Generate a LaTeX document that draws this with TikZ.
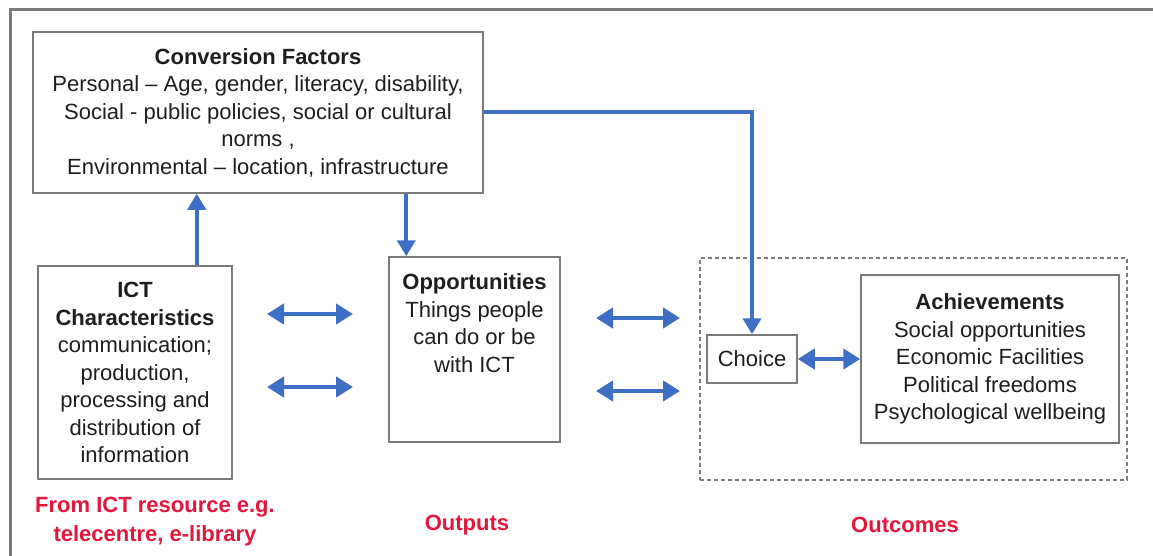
\documentclass[tikz,border=0pt]{standalone}
\usepackage{fontspec}
\setmainfont{Liberation Sans}
\usetikzlibrary{arrows.meta,calc}
\definecolor{arrblue}{HTML}{3F6FC4}
\definecolor{lblred}{HTML}{E3173A}
\definecolor{boxgray}{HTML}{7A7A7A}
\definecolor{txt}{HTML}{1E1E1E}
\begin{document}
\begin{tikzpicture}[x=1pt,y=-1pt,
 every node/.style={font=\fontsize{22}{27.5}\selectfont, align=center, text=txt},
 box/.style={draw=boxgray, line width=1.5pt, inner sep=0pt},
 dashbox/.style={draw=boxgray, line width=1.5pt, dash pattern=on 4pt off 3pt, inner sep=0pt},
 conn/.style={draw=arrblue, line width=4pt, -{Triangle[width=18pt,length=16pt]}},
 dbl/.style={draw=arrblue, line width=4.5pt, {Triangle[width=20pt,length=17pt]}-{Triangle[width=20pt,length=17pt]}},
 lbl/.style={text=lblred, font=\fontsize{22}{29}\selectfont\bfseries},
]
\useasboundingbox (0,0) rectangle (1153,556);
\fill[white] (0,0) rectangle (1153,556);
\draw[boxgray, line width=3pt] (1153,10) -- (10,10) -- (10,556);

\node[box, minimum width=450pt, minimum height=161pt] (cf) at (258,112.5)
 {\textbf{Conversion Factors}\\Personal – Age, gender, literacy, disability,\\Social - public policies, social or cultural\\norms ,\\Environmental – location, infrastructure};

\node[box, minimum width=194pt, minimum height=213pt] (ict) at (135,372.5)
 {\textbf{ICT}\\\textbf{Characteristics}\\communication;\\production,\\processing and\\distribution of\\information};

\node[box, minimum width=171pt, minimum height=185pt] (opp) at (474.5,349.5) {};
\node (opptext) at (474.5,323) {\textbf{Opportunities}\\Things people\\can do or be\\with ICT};

\node[dashbox, minimum width=427pt, minimum height=222pt] (outcbox) at (913.5,369) {};

\node[box, minimum width=90pt, minimum height=48pt] (choice) at (752,359) {Choice};

\node[box, minimum width=258pt, minimum height=168pt] (ach) at (990,359)
 {\textbf{Achievements}\\Social opportunities\\Economic Facilities\\Political freedoms\\Psychological wellbeing};

\node[lbl] (src) at (155,522) {From ICT resource e.g.\\telecentre, e-library};
\node[lbl] (outp) at (467,525) {Outputs};
\node[lbl] (outc) at (905,525) {Outcomes};

\draw[conn] ([xshift=-36pt]ict.north east) -- ([xshift=-36pt]ict.north east |- cf.south);
\draw[conn] ([xshift=18pt]opp.north west |- cf.south) -- ([xshift=18pt]opp.north west);
\draw[conn] (cf.east) -| (choice.north);

\coordinate (l1a) at (267,314);
\coordinate (l1b) at (353,314);
\coordinate (l2a) at (267,387);
\coordinate (l2b) at (353,387);
\coordinate (r1a) at (596,318);
\coordinate (r1b) at (680,318);
\coordinate (r2a) at (596,391);
\coordinate (r2b) at (680,391);
\draw[dbl] (l1a) -- (l1b);
\draw[dbl] (l2a) -- (l2b);
\draw[dbl] (r1a) -- (r1b);
\draw[dbl] (r2a) -- (r2b);
\draw[dbl] (choice.east) -- (ach.west);
\end{tikzpicture}
\end{document}
